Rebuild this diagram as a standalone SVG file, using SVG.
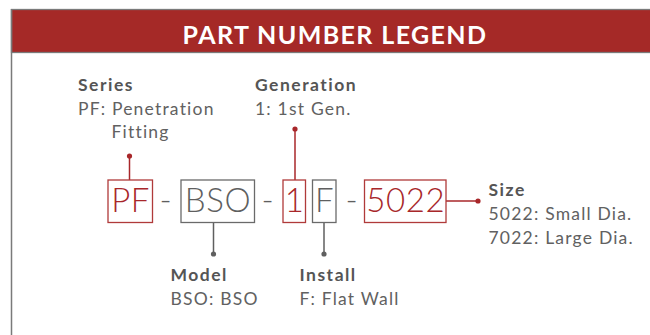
<svg xmlns="http://www.w3.org/2000/svg" width="650" height="335" viewBox="0 0 650 335">
<style>
.lbl{font-family:Lato,"Liberation Sans",sans-serif;font-size:17.5px;fill:#616161;letter-spacing:1.2px}
.lb{font-weight:bold;fill:#555;letter-spacing:1.5px}
.code{font-family:Lato,"Liberation Sans",sans-serif;font-size:33px;font-weight:300;text-anchor:middle;letter-spacing:0.6px}
.red{fill:#a8272a}
.gry{fill:#5f5f5f}
.rbox{fill:none;stroke:#b03a3a;stroke-width:1.3}
.gbox{fill:none;stroke:#6a6a6a;stroke-width:1.3}
.rl{stroke:#a8272a;stroke-width:1.5;fill:none}
.gl{stroke:#5f5f5f;stroke-width:1.5;fill:none}
</style>
<rect width="650" height="335" fill="#fff"/>
<g id="header">
<rect x="11.5" y="9.5" width="645" height="43" fill="#a52927" stroke="#7a7a7a" stroke-width="1.3"/>
<line x1="11.5" y1="9" x2="11.5" y2="335" stroke="#7a7a7a" stroke-width="1.5"/>
<text x="335" y="44" text-anchor="middle" font-family="Lato,'Liberation Sans',sans-serif" font-size="25" font-weight="bold" letter-spacing="1.4" fill="#fff">PART NUMBER LEGEND</text>
</g>
<g id="connectors">
<line class="rl" x1="129.5" y1="156" x2="129.5" y2="180"/><circle cx="129.5" cy="156" r="2.6" class="red"/>
<line class="rl" x1="295" y1="129" x2="295" y2="180"/><circle cx="295" cy="129" r="2.6" class="red"/>
<line class="rl" x1="446" y1="201" x2="478" y2="201"/><circle cx="478" cy="201" r="2.6" class="red"/>
<line class="gl" x1="213.5" y1="223" x2="213.5" y2="254"/><circle cx="213.5" cy="254" r="2.6" class="gry"/>
<line class="gl" x1="324" y1="223" x2="324" y2="254"/><circle cx="324" cy="254" r="2.6" class="gry"/>
</g>
<g id="pf"><rect class="rbox" x="108" y="180" width="44.5" height="42.5"/><text class="code red" x="130.6" y="212">PF</text></g>
<g id="dash1"><text class="code gry" x="166" y="212">-</text></g>
<g id="bso"><rect class="gbox" x="181" y="180" width="73.5" height="42.5"/><text class="code gry" x="218" y="212">BSO</text></g>
<g id="dash2"><text class="code gry" x="268" y="212">-</text></g>
<g id="gen"><rect class="rbox" x="283" y="180" width="22.5" height="42.5"/><text class="code red" x="294.6" y="212">1</text></g>
<g id="inst"><rect class="gbox" x="312.5" y="180" width="23.5" height="42.5"/><text class="code gry" x="324.6" y="212">F</text></g>
<g id="dash3"><text class="code gry" x="352" y="212">-</text></g>
<g id="size"><rect class="rbox" x="364.5" y="180" width="81.5" height="42.5"/><text class="code red" x="405.8" y="212">5022</text></g>
<g id="series-label">
<text class="lbl lb" x="78" y="91">Series</text>
<text class="lbl" x="78" y="115">PF: Penetration</text>
<text class="lbl" x="111.5" y="138">Fitting</text>
</g>
<g id="generation-label">
<text class="lbl lb" x="255" y="91">Generation</text>
<text class="lbl" x="255" y="115">1: 1st Gen.</text>
</g>
<g id="size-label">
<text class="lbl lb" x="488.5" y="196">Size</text>
<text class="lbl" x="488.5" y="220">5022: Small Dia.</text>
<text class="lbl" x="488.5" y="243.5">7022: Large Dia.</text>
</g>
<g id="model-label">
<text class="lbl lb" x="170.5" y="281">Model</text>
<text class="lbl" x="170.5" y="305">BSO: BSO</text>
</g>
<g id="install-label">
<text class="lbl lb" x="299.5" y="281">Install</text>
<text class="lbl" x="299.5" y="305">F: Flat Wall</text>
</g>
</svg>
